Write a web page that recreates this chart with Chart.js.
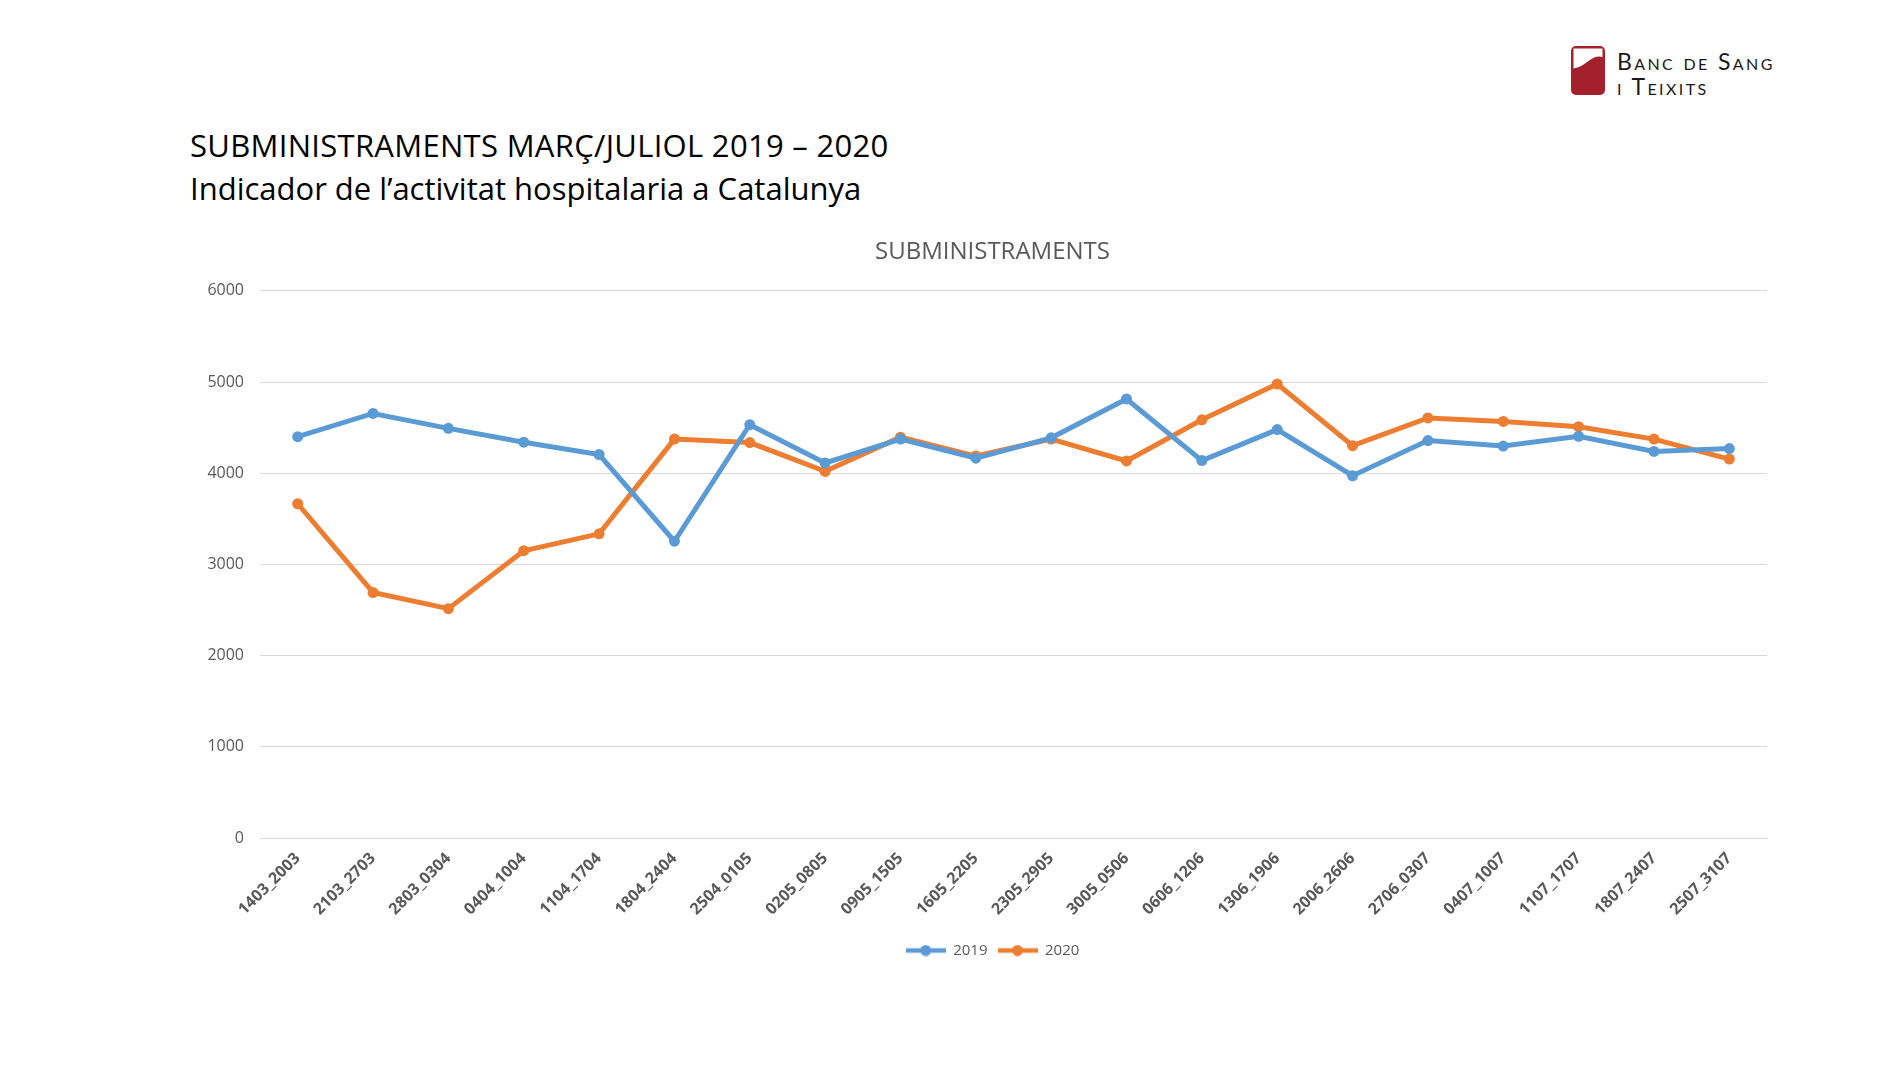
<!DOCTYPE html>
<html>
<head>
<meta charset="utf-8">
<script src="https://cdn.jsdelivr.net/npm/chart.js@4.4.1/dist/chart.umd.min.js"></script>
<style>
  html, body { margin: 0; padding: 0; background: #fff; }
  body { width: 1894px; height: 1073px; position: relative; overflow: hidden; font-family: "Open Sans", sans-serif; }
  #chart { position: absolute; left: 0; top: 0; }
  .heading { position: absolute; left: 190px; top: 124px; font-size: 31px; line-height: 43px; color: #000; white-space: nowrap; }
  .heading .l1 { letter-spacing: 0.3px; }
  .logo { position: absolute; left: 1569px; top: 45px; }
  .logo-text { position: absolute; left: 1617px; top: 49px; font-family: Lato, sans-serif; font-variant: small-caps; font-size: 23px; line-height: 25px; color: #1a1a1a; letter-spacing: 2.4px; white-space: nowrap; }
</style>
</head>
<body>
<svg class="logo" width="40" height="52" viewBox="0 0 40 52">
  <rect x="2" y="1" width="34" height="49" rx="5" fill="#a4202b"/>
  <path d="M4.5 3.5 H33.5 V12 C27 10 22 14 16 18.5 C11 22 7.5 23 4.5 23.5 Z" fill="#fff"/>
</svg>
<div class="logo-text">Banc de Sang<br>i Teixits</div>
<div class="heading"><span class="l1">SUBMINISTRAMENTS MARÇ/JULIOL 2019 – 2020</span><br>Indicador de l’activitat hospitalaria a Catalunya</div>
<canvas id="chart" width="1894" height="1073"></canvas>
<script>
const categories = ["1403_2003", "2103_2703", "2803_0304", "0404_1004", "1104_1704", "1804_2404", "2504_0105", "0205_0805", "0905_1505", "1605_2205", "2305_2905", "3005_0506", "0606_1206", "1306_1906", "2006_2606", "2706_0307", "0407_1007", "1107_1707", "1807_2407", "2507_3107"];
const values2019 = [4400, 4655, 4492, 4340, 4205, 3254, 4532, 4112, 4374, 4165, 4388, 4814, 4138, 4478, 3972, 4358, 4298, 4405, 4239, 4270];
const values2020 = [3665, 2692, 2515, 3150, 3335, 4374, 4336, 4020, 4395, 4188, 4374, 4134, 4585, 4978, 4302, 4606, 4568, 4510, 4374, 4155];
const seriesNames = ["2019", "2020"];
const seriesColors = ["#5b9bd5", "#ed7d31"];

Chart.defaults.font.family = "'Open Sans', sans-serif";
Chart.defaults.color = "#595959";

// little line + dot marker like the Excel legend
function legendMarker(color) {
    const c = document.createElement("canvas");
    c.width = 40;
    c.height = 12;
    const g = c.getContext("2d");
    g.strokeStyle = color;
    g.lineWidth = 4.5;
    g.beginPath();
    g.moveTo(0, 6);
    g.lineTo(40, 6);
    g.stroke();
    g.fillStyle = color;
    g.beginPath();
    g.arc(20, 6, 5.5, 0, Math.PI * 2);
    g.fill();
    return c;
}

const ctx = document.getElementById("chart").getContext("2d");
new Chart(ctx, {
    type: "line",
    data: {
        labels: categories,
        datasets: [values2019, values2020].map((vals, i) => ({
            label: seriesNames[i],
            data: vals,
            borderColor: seriesColors[i],
            backgroundColor: seriesColors[i],
            borderWidth: 5,
            pointRadius: 5.5,
            pointBorderWidth: 0,
            tension: 0,
            yAxisID: "y",
        })),
    },
    options: {
        responsive: false,
        animation: false,
        layout: { padding: { top: 238, left: 190, right: 99, bottom: 105 } },
        plugins: {
            title: {
                display: true,
                text: "SUBMINISTRAMENTS",
                font: { size: 24, weight: "normal" },
                color: "#595959",
                padding: { top: 0, bottom: 24 },
            },
            legend: {
                position: "bottom",
                labels: {
                    usePointStyle: true,
                    pointStyleWidth: 40,
                    font: { size: 15 },
                    color: "#595959",
                    padding: 10,
                    generateLabels(chart) {
                        const items = Chart.defaults.plugins.legend.labels.generateLabels(chart);
                        items.forEach((it, i) => { it.pointStyle = legendMarker(seriesColors[i]); });
                        return items;
                    },
                },
            },
            tooltip: { enabled: false },
        },
        scales: {
            x: {
                offset: true,
                grid: { display: false, drawTicks: false },
                border: { display: true, color: "#d9d9d9", width: 1 },
                ticks: { minRotation: 45, maxRotation: 45, padding: 11, font: { size: 16, weight: "bold" }, color: "#595959" },
                afterFit(scale) { scale.height = 95; },
            },
            y: {
                min: 0,
                max: 6000,
                grid: { color: "#d9d9d9", drawTicks: false },
                border: { display: false },
                ticks: { stepSize: 1000, padding: 16, font: { size: 16 }, color: "#595959", callback: v => String(v) },
                afterFit(scale) { scale.width = 70; },
            },
            // empty spacer on the right so title and legend centre where the original has them
            spacer: {
                type: "linear",
                position: "right",
                grid: { display: false, drawTicks: false },
                border: { display: false },
                ticks: { display: false },
                afterFit(scale) { scale.width = 28; },
            },
        },
    },
});
</script>
</body>
</html>
